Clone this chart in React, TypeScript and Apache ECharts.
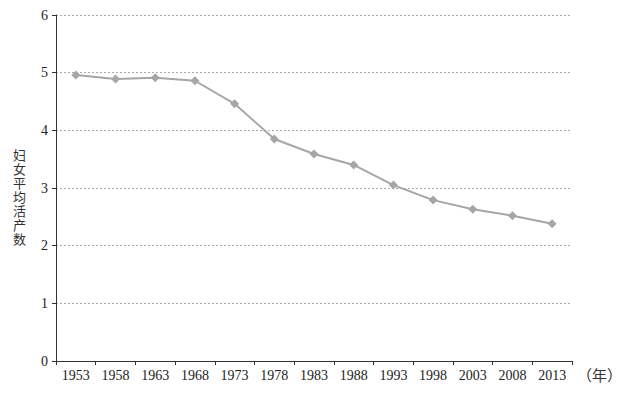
import React, { useEffect, useRef } from "react";
import * as echarts from "echarts";

const years = ["1953", "1958", "1963", "1968", "1973", "1978", "1983", "1988", "1993", "1998", "2003", "2008", "2013"];
const births = [4.96, 4.89, 4.91, 4.86, 4.46, 3.85, 3.59, 3.4, 3.05, 2.79, 2.63, 2.52, 2.38];
const yTicks = { min: 0, max: 6, interval: 1 };
const yTitle = "妇女平均活产数";
const xUnit = "（年）";

export default function App() {
  const ref = useRef<HTMLDivElement>(null);
  useEffect(() => {
    const chart = echarts.init(ref.current!, null, { renderer: "svg" });
    const serif = "Liberation Serif";
    const titleChars = yTitle.split("").map((ch, i) => ({
      type: "text",
      left: 13,
      top: 148 + i * 14,
      style: { text: ch, font: "13px 'Noto Sans CJK SC'", fill: "#333" },
    }));
    chart.setOption({
      animation: false,
      backgroundColor: "#fff",
      grid: { left: 56, right: 56, top: 15, bottom: 33 },
      xAxis: {
        type: "category",
        data: years,
        boundaryGap: true,
        axisLine: { lineStyle: { color: "#333", width: 1 } },
        axisTick: { show: true, alignWithLabel: false, length: 4, lineStyle: { color: "#333" } },
        axisLabel: { color: "#222", fontFamily: serif, fontSize: 14, margin: 7 },
      },
      yAxis: {
        type: "value",
        min: yTicks.min,
        max: yTicks.max,
        interval: yTicks.interval,
        axisLine: { show: true, lineStyle: { color: "#333", width: 1 } },
        axisTick: { show: true, length: 4, lineStyle: { color: "#333" } },
        axisLabel: { color: "#222", fontFamily: serif, fontSize: 14, margin: 8 },
        splitLine: { show: true, lineStyle: { color: "#aaa", type: [2, 2], width: 1 } },
      },
      graphic: [
        ...titleChars,
        {
          type: "text",
          left: 577,
          top: 367,
          style: {
            text: xUnit,
            font: "15px 'Noto Sans CJK SC'",
            fill: "#333",
          },
        },
      ],
      series: [
        {
          type: "line",
          data: births,
          symbol: "diamond",
          symbolSize: 9,
          lineStyle: { color: "#a6a6a6", width: 2 },
          itemStyle: { color: "#a6a6a6" },
        },
      ],
    });
    return () => chart.dispose();
  }, []);
  return <div ref={ref} style={{ width: 628, height: 394, position: "absolute", left: 0, top: 0 }} />;
}
